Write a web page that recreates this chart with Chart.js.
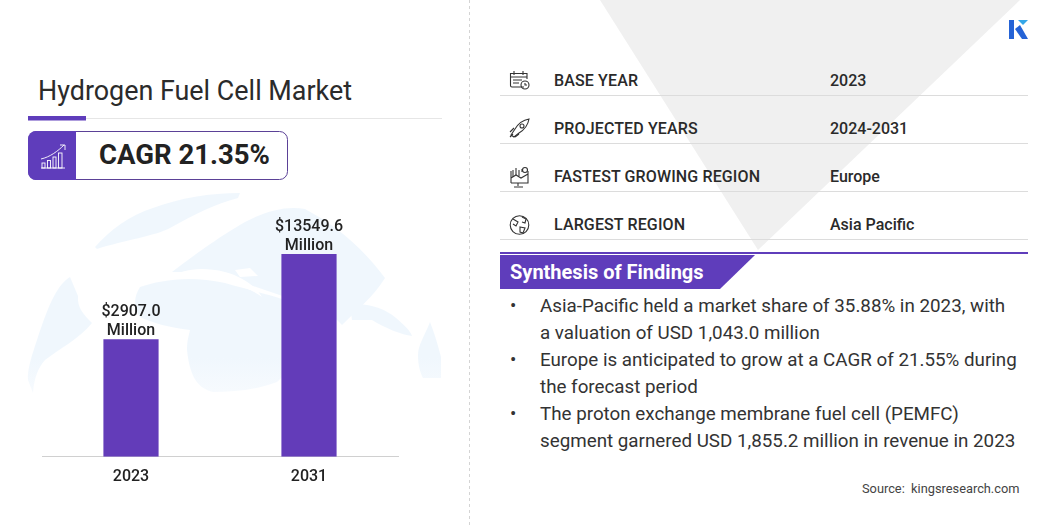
<!DOCTYPE html>
<html>
<head>
<meta charset="utf-8">
<script src="https://cdn.jsdelivr.net/npm/chart.js@4"></script>
<style>
  html, body { margin: 0; padding: 0; background: #fff; }
  body { position: relative; width: 1056px; height: 528px; overflow: hidden; font-family: Roboto, sans-serif; color: #222; }
  .t { position: absolute; white-space: nowrap; line-height: 1; }
  #decor { position: absolute; left: 0; top: 0; }
  #chart { position: absolute; left: 0; top: 190px; }
  .rowLabel, .rowValue { font-size: 16px; font-weight: 500; color: #2a2a2a; }
  .rowLabel { letter-spacing: 0.13px; }
  .bullet { font-size: 18.8px; color: #333; }
</style>
</head>
<body>
<svg id="decor" width="1056" height="528" viewBox="0 0 1056 528">
  <defs>
    <linearGradient id="fade" x1="0" y1="190" x2="0" y2="400" gradientUnits="userSpaceOnUse">
      <stop offset="0" stop-color="#f0f7fd"/>
      <stop offset="0.8" stop-color="#f0f7fd"/>
      <stop offset="1" stop-color="#f8fbfe"/>
    </linearGradient>
  </defs>

  <!-- globe behind the bars -->
  <g fill="url(#fade)">
    <path d="M95 247 C110 230 130 215 153 208 C180 198 210 193 240 193 L238 198 C215 204 195 214 170 228 C155 236 125 240 97 249 Z"/>
    <path d="M70 277 C58 285 50 300 37 340 C32 355 27 370 28 380 L33 393 C34 378 38 368 45 360 C58 350 80 338 92 323 C84 315 77 308 78 296 Z"/>
    <path d="M172 272 C190 258 215 240 235 228 C260 212 285 205 305 209 C335 225 360 245 385 278 C375 295 355 312 342 325 C330 312 315 304 300 302 L250 285 L215 272 Z"/>
    <path d="M140 287 C160 280 190 275 225 283 C255 292 290 298 310 312 C325 322 333 335 334 345 C310 352 295 365 277 382 C255 390 235 392 213 392 C198 388 190 378 187 350 C187 340 189 335 190 330 C170 328 150 322 140 317 C134 308 133 298 140 287 Z"/>
    <path d="M430 322 C425 335 418 345 418 355 C418 365 420 372 423 378 L441 378 L441 357 C438 345 434 332 430 322 Z"/>
    <path d="M350 305 C365 302 385 308 396 318 C404 325 410 330 412 336 C402 335 385 328 372 320 L352 320 Z"/>
  </g>
  <g fill="#fff">
    <path d="M170 278 C180 270 200 266 225 272 C240 276 255 285 262 297 C250 288 225 279 205 278 C195 278 185 280 170 278 Z"/>
    <path d="M235 270 L250 268 L258 276 L240 277 Z"/>
  </g>

  <!-- grey wedge -->
  <polygon points="600,0 1020,0 758,250" fill="#f0f0f0"/>

  <!-- panel divider -->
  <line x1="469.5" y1="0" x2="469.5" y2="528" stroke="#d4d4d4" stroke-width="1" stroke-dasharray="3 3"/>

  <!-- title rule -->
  <line x1="28" y1="118.5" x2="442" y2="118.5" stroke="#e6e6e6" stroke-width="1"/>
  <rect x="28" y="116" width="58" height="4.5" fill="#5f3dbb"/>

  <!-- CAGR box -->
  <rect x="28.5" y="131.5" width="259" height="48" rx="8" fill="#fff" stroke="#5b4197" stroke-width="1"/>
  <path d="M36 131 H76 V180 H36 A8 8 0 0 1 28 172 V139 A8 8 0 0 1 36 131 Z" fill="#5f3dbb"/>
  <g fill="none" stroke="#fff" stroke-width="0.9">
    <path d="M41 168 H65"/>
    <rect x="42" y="163" width="3" height="5"/><rect x="47.5" y="160.5" width="3" height="7.5"/>
    <rect x="53" y="157" width="3" height="11"/><rect x="58.5" y="153" width="3.5" height="15"/>
    <path d="M41 159 C50 157 58 151 64 145 M60 145 H65 V150"/>
  </g>

  <!-- logo -->
  <rect x="1009" y="20" width="5" height="19" fill="#2563d6"/>
  <polygon points="1015,29 1020,25 1028,39 1022,39" fill="#2563d6"/>
  <polygon points="1018,20 1028,20 1023,25" fill="#35a7e8"/>

  <!-- table rules -->
  <g stroke="#dcdcdc" stroke-width="1">
    <line x1="500" y1="95.5" x2="1028" y2="95.5"/>
    <line x1="500" y1="143.5" x2="1028" y2="143.5"/>
    <line x1="500" y1="191.5" x2="1028" y2="191.5"/>
    <line x1="500" y1="239.5" x2="1028" y2="239.5"/>
  </g>

  <!-- row icons -->
  <g fill="none" stroke="#333" stroke-width="1.1">
    <path d="M524 87 H512 Q510.5 87 510.5 85.5 V73.5 H527 V79 M510.5 77 H527"/>
    <path d="M514 71 V75 M523 71 V75"/>
    <path d="M513 80 H522 M513 83 H519"/>
    <circle cx="525" cy="85" r="4"/><path d="M525 83 V85 H527"/>

    <path d="M511 135 L515 129 C518 124 523 120 529 119 C528 125 524 130 519 133 L514 137 Z"/>
    <circle cx="522" cy="126" r="2"/><path d="M510 132 L514 128 M515 137 L519 134 M510 137 L513 134"/>

    <path d="M511 183 H528 V171 M511 171 V183 M511 178 L516 175 L521 178 L528 174 M518 183 V186 M514 187 H523"/>
    <path d="M513 177 V170 M516 175 V168 M519 176 V170 M522 172 V169"/>
    <circle cx="525" cy="170" r="2.5"/>

    <circle cx="519.5" cy="225" r="9.3"/>
    <path d="M513 219 L518 222 L516 226 L513 224 M522 217 L526 219 L525 223 L522 222 M520 227 L525 228 L523 233 L520 232 Z"/>
  </g>

  <!-- findings banner -->
  <rect x="500" y="252" width="528" height="2" fill="#5f3dbb"/>
  <polygon points="500,255 755,255 720,289 500,289" fill="#5f3dbb"/>
</svg>

<div class="t" style="left:38px;top:78px;font-size:26.9px;color:#2b2b2b">Hydrogen Fuel Cell Market</div>
<div class="t" style="left:99px;top:141px;font-size:27.5px;font-weight:700;color:#222">CAGR 21.35%</div>

<div class="t rowLabel" style="left:554px;top:73px">BASE YEAR</div>
<div class="t rowValue" style="left:830px;top:73px">2023</div>
<div class="t rowLabel" style="left:554px;top:121px">PROJECTED YEARS</div>
<div class="t rowValue" style="left:830px;top:121px">2024-2031</div>
<div class="t rowLabel" style="left:554px;top:169px">FASTEST GROWING REGION</div>
<div class="t rowValue" style="left:830px;top:169px">Europe</div>
<div class="t rowLabel" style="left:554px;top:217px">LARGEST REGION</div>
<div class="t rowValue" style="left:830px;top:217px">Asia Pacific</div>

<div class="t" style="left:510px;top:262px;font-size:20px;font-weight:700;color:#fff">Synthesis of Findings</div>

<div class="t bullet" style="left:510px;top:297px">•</div>
<div class="t bullet" style="left:540px;top:297px">Asia-Pacific held a market share of 35.88% in 2023, with</div>
<div class="t bullet" style="left:540px;top:324px">a valuation of USD 1,043.0 million</div>
<div class="t bullet" style="left:510px;top:351px">•</div>
<div class="t bullet" style="left:540px;top:351px">Europe is anticipated to grow at a CAGR of 21.55% during</div>
<div class="t bullet" style="left:540px;top:378px">the forecast period</div>
<div class="t bullet" style="left:510px;top:405px">•</div>
<div class="t bullet" style="left:540px;top:405px">The proton exchange membrane fuel cell (PEMFC)</div>
<div class="t bullet" style="left:540px;top:432px">segment garnered USD 1,855.2 million in revenue in 2023</div>

<div class="t" style="left:862px;top:483px;font-size:12.8px;color:#444">Source:&nbsp; kingsresearch.com</div>

<canvas id="chart" width="470" height="338"></canvas>

<script>
const years = ["2023", "2031"];
const marketValues = [2907.0, 13549.6];
const valueUnit = "Million";

Chart.defaults.font.family = "Roboto, sans-serif";

// value labels sit above each bar, two lines
const barLabels = {
  id: "barLabels",
  afterDatasetsDraw(chart) {
    const ctx = chart.ctx;
    ctx.save();
    ctx.fillStyle = "#222";
    ctx.font = "500 16px Roboto, sans-serif";
    ctx.textAlign = "center";
    ctx.textBaseline = "alphabetic";
    chart.getDatasetMeta(0).data.forEach((bar, i) => {
      ctx.fillText("$" + marketValues[i].toFixed(1), bar.x, bar.y - 23);
      ctx.fillText(valueUnit, bar.x, bar.y - 4);
    });
    ctx.restore();
  },
};

new Chart(document.getElementById("chart").getContext("2d"), {
  type: "bar",
  data: {
    labels: years,
    datasets: [
      {
        data: marketValues,
        backgroundColor: "#633cb9",
        barPercentage: 0.62,
        categoryPercentage: 0.5,
      },
    ],
  },
  options: {
    responsive: false,
    animation: false,
    devicePixelRatio: 1,
    layout: { padding: { left: 42, right: 72, top: 64, bottom: 30 } },
    plugins: { legend: { display: false }, tooltip: { enabled: false } },
    scales: {
      y: {
        // the source bars are not to linear scale, a log axis keeps true values
        type: "logarithmic",
        display: false,
        min: 347,
        max: 13549.6,
      },
      x: {
        grid: { display: false, drawTicks: false },
        border: { color: "#d0d0d0", width: 1 },
        ticks: { color: "#222", padding: 11, font: { size: 16, weight: "500" } },
      },
    },
  },
  plugins: [barLabels],
});
</script>
</body>
</html>
